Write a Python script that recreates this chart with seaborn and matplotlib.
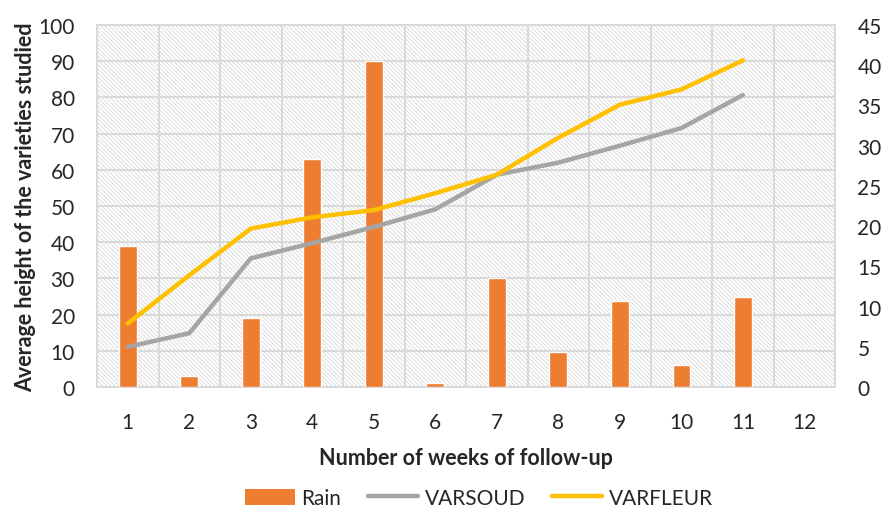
import matplotlib
matplotlib.use("Agg")
import matplotlib.pyplot as plt
from matplotlib.patches import Patch
from matplotlib.lines import Line2D
import numpy as np
import pandas as pd
import seaborn as sns

# Weekly follow-up data
weeks = [1, 2, 3, 4, 5, 6, 7, 8, 9, 10, 11, 12]
measured_weeks = [1, 2, 3, 4, 5, 6, 7, 8, 9, 10, 11]
rain = [39, 3, 19, 63, 90, 1, 30, 9.6, 23.8, 6.1, 24.9]
varsoud = [5.0, 6.7, 16.0, 17.9, 19.9, 22.1, 26.4, 27.9, 30.0, 32.2, 36.3]
varfleur = [7.9, 13.9, 19.7, 21.1, 22.0, 24.1, 26.4, 31.0, 35.1, 37.0, 40.6]

left_ticks = list(range(0, 101, 10))
right_ticks = list(range(0, 46, 5))

RAIN_COLOR = "#ED7D31"
SOUD_COLOR = "#A5A5A5"
FLEUR_COLOR = "#FFC000"
GRID_COLOR = "#D9D9D9"
HATCH_COLOR = "#DCDCDC"

sns.set_style("white")
plt.rcParams["font.family"] = ["Lato", "DejaVu Sans"]
plt.rcParams["hatch.color"] = HATCH_COLOR
plt.rcParams["hatch.linewidth"] = 0.7

TICK_FS = 15
LABEL_FS = 15.5

fig = plt.figure(figsize=(8.82, 5.10), dpi=100)
ax = fig.add_axes([0.110, 0.239, 0.837, 0.710])

# hatched plotting area
ax.patch.set_facecolor("white")
ax.patch.set_hatch("\\" * 8)
ax.patch.set_edgecolor(HATCH_COLOR)

rain_df = pd.DataFrame({"week": measured_weeks, "rain": rain})
sns.barplot(data=rain_df, x="week", y="rain", native_scale=True, width=0.29,
            color=RAIN_COLOR, saturation=1, ax=ax, zorder=3)

ax.set_xlim(0.5, 12.5)
ax.set_ylim(0, 100)
ax.set_yticks(left_ticks)
ax.set_xticks(weeks)
ax.set_xticklabels([str(w) for w in weeks])
ax.set_xticks(np.arange(0.5, 12.6, 1.0), minor=True)
ax.tick_params(axis="x", which="major", length=0, pad=18, labelsize=TICK_FS)
ax.tick_params(axis="x", which="minor", length=8, width=1.2, color=GRID_COLOR)
ax.tick_params(axis="y", length=0, pad=16, labelsize=TICK_FS)
ax.grid(True, axis="y", color=GRID_COLOR, linewidth=1.4, zorder=1)
ax.grid(True, axis="x", which="minor", color=GRID_COLOR, linewidth=1.4, zorder=1)
ax.set_axisbelow(True)
for s in ax.spines.values():
    s.set_color(GRID_COLOR)
    s.set_linewidth(1.4)

ax.set_xlabel("Number of weeks of follow-up", fontsize=LABEL_FS, fontweight="bold", labelpad=11)
ax.set_ylabel("Average height of the varieties studied", fontsize=LABEL_FS, fontweight="bold", labelpad=2)

ax2 = ax.twinx()
ax2.patch.set_visible(False)
lines_df = pd.DataFrame({"week": measured_weeks, "VARSOUD": varsoud, "VARFLEUR": varfleur})
sns.lineplot(data=lines_df, x="week", y="VARSOUD", color=SOUD_COLOR, linewidth=3.2,
             ax=ax2, solid_capstyle="round")
sns.lineplot(data=lines_df, x="week", y="VARFLEUR", color=FLEUR_COLOR, linewidth=3.2,
             ax=ax2, solid_capstyle="round")
ax2.set_ylim(0, 45)
ax2.set_yticks(right_ticks)
ax2.set_xlim(0.5, 12.5)
ax2.set_ylabel("")
ax2.tick_params(axis="y", length=0, pad=16, labelsize=TICK_FS)
for s in ax2.spines.values():
    s.set_visible(False)

handles = [
    Patch(facecolor=RAIN_COLOR, edgecolor="none"),
    Line2D([0], [0], color=SOUD_COLOR, linewidth=3.2),
    Line2D([0], [0], color=FLEUR_COLOR, linewidth=3.2),
]
fig.legend(handles, ["Rain", "VARSOUD", "VARFLEUR"], loc="center",
           bbox_to_anchor=(0.543, 0.022), ncol=3, frameon=False, fontsize=TICK_FS,
           handlelength=2.4, handleheight=0.8, columnspacing=1.3, handletextpad=0.3)

fig.savefig("out.png", dpi=100)
